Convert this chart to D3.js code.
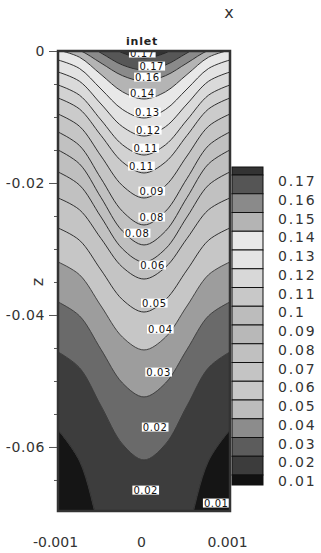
<!DOCTYPE html>
<html>
<head>
<meta charset="utf-8">
<script src="https://cdn.jsdelivr.net/npm/d3@7"></script>
<style>
  html, body { margin: 0; padding: 0; background: #fff; }
  svg { display: block; }
  text { font-family: 'DejaVu Sans', sans-serif; }
</style>
</head>
<body>
<div id="chart"></div>
<script>
// x positions where every isoline is sampled
const contourX = [-0.001, -0.00075, -0.0005, -0.00025, 0, 0.00025, 0.0005, 0.00075, 0.001]

// z of each isoline at contourX, from the inlet down
const contourZ = [
  [0.00424, 0.00347, 0.00159, -0.00029, -0.00106, -0.00029, 0.00159, 0.00347, 0.00424],
  [0.00227, 0.00152, -0.0003, -0.00212, -0.00288, -0.00212, -0.0003, 0.00152, 0.00227],
  [0.00091, 0.00011, -0.00182, -0.00374, -0.00455, -0.00374, -0.00182, 0.00011, 0.00091],
  [0.00015, -0.00094, -0.00356, -0.00618, -0.00727, -0.00618, -0.00356, -0.00094, 0.00015],
  [-0.00136, -0.00265, -0.00576, -0.00886, -0.01015, -0.00886, -0.00576, -0.00265, -0.00136],
  [-0.00318, -0.00459, -0.00803, -0.01147, -0.01288, -0.01147, -0.00803, -0.00459, -0.00318],
  [-0.00515, -0.0067, -0.01045, -0.01421, -0.01576, -0.01421, -0.01045, -0.0067, -0.00515],
  [-0.00712, -0.00879, -0.0128, -0.01682, -0.01848, -0.01682, -0.0128, -0.00879, -0.00712],
  [-0.00955, -0.01141, -0.01591, -0.02041, -0.02227, -0.02041, -0.01591, -0.01141, -0.00955],
  [-0.01227, -0.01433, -0.01932, -0.0243, -0.02636, -0.0243, -0.01932, -0.01433, -0.01227],
  [-0.015, -0.01711, -0.0222, -0.02729, -0.02939, -0.02729, -0.0222, -0.01711, -0.015],
  [-0.01833, -0.02032, -0.02515, -0.02998, -0.03197, -0.02998, -0.02515, -0.02032, -0.01833],
  [-0.02227, -0.02406, -0.02841, -0.03276, -0.03455, -0.03276, -0.02841, -0.02406, -0.02227],
  [-0.02682, -0.02868, -0.03318, -0.03768, -0.03955, -0.03768, -0.03318, -0.02868, -0.02682],
  [-0.03197, -0.03391, -0.03864, -0.04336, -0.0453, -0.04336, -0.03864, -0.03391, -0.03197],
  [-0.03803, -0.04014, -0.04523, -0.05032, -0.05242, -0.05032, -0.04523, -0.04014, -0.03803],
  [-0.04561, -0.048, -0.05379, -0.05958, -0.06197, -0.05958, -0.05379, -0.048, -0.04561],
  [-0.05742, -0.06214, -0.07356, -0.08498, -0.0897, -0.08498, -0.07356, -0.06214, -0.05742]
]

// fill between isolines (one more band than lines)
const bandColors = ['#333333', '#575757', '#8a8a8a', '#b4b4b4', '#e8e8e8', '#e3e3e3', '#dadada',
  '#d2d2d2', '#cbcbcb', '#c5c5c5', '#c1c1c1', '#bfbfbf', '#c1c1c1', '#c4c4c4', '#c6c6c6',
  '#9d9d9d', '#6a6a6a', '#3d3d3d', '#151515']

const labelText = ['0.17', '0.17', '0.16', '0.14', '0.13', '0.12', '0.11', '0.11', '0.09',
  '0.08', '0.08', '0.06', '0.05', '0.04', '0.03', '0.02', '0.02', '0.01']
const labelX = [-0.00002, 0.00009, 0.00004, -0.00002, 0.00004, 0.00005, 0.00002, -0.00003, 0.00009,
  0.00009, -0.00008, 0.0001, 0.00012, 0.00019, 0.00017, 0.00013, 0.00002, 0.00084]
const labelZ = [-0.0003, -0.00227, -0.00394, -0.00636, -0.00924, -0.01197, -0.0147, -0.01742, -0.02121,
  -0.02515, -0.02758, -0.03242, -0.03818, -0.04212, -0.04864, -0.05697, -0.06652, -0.06848]

const legendValues = [0.17, 0.16, 0.15, 0.14, 0.13, 0.12, 0.11, 0.1, 0.09, 0.08, 0.07, 0.06, 0.05, 0.04, 0.03, 0.02, 0.01]
const legendColors = ['#333333', '#555555', '#8a8a8a', '#b4b4b4', '#e8e8e8', '#e4e4e4', '#d8d8d8',
  '#c8c8c8', '#bcbcbc', '#b8b8b8', '#c0c0c0', '#c4c4c4', '#c8c8c8', '#bcbcbc', '#8c8c8c',
  '#5c5c5c', '#3c3c3c', '#111111']

const yTicks = [0, -0.02, -0.04, -0.06]
const yMinorTicks = [-0.005, -0.01, -0.015, -0.025, -0.03, -0.035, -0.045, -0.05, -0.055, -0.065]
const xTicks = [-0.001, 0, 0.001]

const width = 321
const height = 553
const plot = { left: 58, right: 230, top: 51, bottom: 511 }

// plain hyphen for negatives, like the original
const tickText = digits => d => d === 0 ? '0' : d3.format(digits)(d).replace('\u2212', '-')

const svg = d3.select('#chart')
  .append('svg')
  .attr('width', width)
  .attr('height', height)

const x = d3.scaleLinear().domain([-0.001, 0.001]).range([plot.left, plot.right])
const y = d3.scaleLinear().domain([0, -0.0697]).range([plot.top, plot.bottom])

svg.append('clipPath')
  .attr('id', 'plot-clip')
  .append('rect')
  .attr('x', plot.left)
  .attr('y', plot.top)
  .attr('width', plot.right - plot.left)
  .attr('height', plot.bottom - plot.top)

const field = svg.append('g').attr('clip-path', 'url(#plot-clip)')

// bands: band i sits between isoline i-1 and isoline i
const bands = bandColors.map((color, i) => ({
  color,
  upper: i === 0 ? null : contourZ[i - 1],
  lower: i === contourZ.length ? null : contourZ[i]
}))

const band = d3.area()
  .x((d, i) => x(contourX[i]))
  .y0((d, i) => d.upper === null ? y.range()[0] - 5 : y(d.upper[i]))
  .y1((d, i) => d.lower === null ? y.range()[1] + 5 : y(d.lower[i]))
  .curve(d3.curveCatmullRom)

field.selectAll('.band')
  .data(bands)
  .enter()
  .append('path')
  .attr('class', 'band')
  .attr('d', b => band(contourX.map(() => b)))
  .attr('fill', b => b.color)
  .attr('stroke', b => b.color)
  .attr('stroke-width', 0.5)

const isoline = d3.line()
  .x((d, i) => x(contourX[i]))
  .y(d => y(d))
  .curve(d3.curveCatmullRom)

field.selectAll('.iso')
  .data(contourZ)
  .enter()
  .append('path')
  .attr('class', 'iso')
  .attr('d', isoline)
  .attr('fill', 'none')
  .attr('stroke', (d, i) => i >= 14 ? '#3a3a3a' : '#1e1e1e')
  .attr('stroke-width', 0.9)

// contour labels with white boxes
const labels = field.selectAll('.clabel')
  .data(labelText)
  .enter()
  .append('g')
  .attr('class', 'clabel')
  .attr('transform', (d, i) => `translate(${x(labelX[i])},${y(labelZ[i])})`)

labels.append('text')
  .attr('text-anchor', 'middle')
  .attr('dy', '0.36em')
  .attr('font-size', 10)
  .attr('letter-spacing', 0.6)
  .attr('fill', '#111')
  .text(d => d)

labels.each(function () {
  const g = d3.select(this)
  const box = g.select('text').node().getBBox()
  g.insert('rect', 'text')
    .attr('x', box.x - 1)
    .attr('y', box.y + 1)
    .attr('width', box.width + 2)
    .attr('height', box.height - 2)
    .attr('fill', '#fff')
})

// frame
svg.append('rect')
  .attr('x', plot.left)
  .attr('y', plot.top)
  .attr('width', plot.right - plot.left)
  .attr('height', plot.bottom - plot.top)
  .attr('fill', 'none')
  .attr('stroke', '#333')
  .attr('stroke-width', 2.5)

// axes
const yAxis = svg.append('g')
  .attr('transform', `translate(${plot.left - 1},0)`)
  .call(d3.axisLeft(y).tickValues(yTicks).tickSize(8).tickPadding(4).tickFormat(tickText('.2f')))
yAxis.select('.domain').remove()
yAxis.selectAll('line').attr('stroke', '#555')
yAxis.selectAll('text')
  .attr('font-size', 14)
  .attr('font-family', 'DejaVu Sans, sans-serif')
  .attr('letter-spacing', 0.6)
  .attr('fill', '#333')

const yMinor = svg.append('g')
  .attr('transform', `translate(${plot.left - 1},0)`)
  .call(d3.axisLeft(y).tickValues(yMinorTicks).tickSize(3).tickFormat(''))
yMinor.select('.domain').remove()
yMinor.selectAll('line').attr('stroke', '#555')

const xAxis = svg.append('g')
  .attr('transform', `translate(-3,${plot.bottom})`)
  .call(d3.axisBottom(x).tickValues(xTicks).tickSize(0).tickPadding(26).tickFormat(tickText('.3f')))
xAxis.select('.domain').remove()
xAxis.selectAll('text')
  .attr('font-size', 14)
  .attr('font-family', 'DejaVu Sans, sans-serif')
  .attr('fill', '#333')

svg.append('text')
  .attr('x', 229)
  .attr('y', 18)
  .attr('text-anchor', 'middle')
  .attr('font-size', 16)
  .attr('fill', '#333')
  .text('x')

svg.append('text')
  .attr('transform', 'translate(43,282) rotate(-90)')
  .attr('text-anchor', 'middle')
  .attr('font-size', 16)
  .attr('fill', '#333')
  .text('z')

svg.append('text')
  .attr('x', x(0) - 2)
  .attr('y', 45)
  .attr('text-anchor', 'middle')
  .attr('font-size', 11)
  .attr('font-weight', 'bold')
  .attr('letter-spacing', 0.8)
  .attr('fill', '#222')
  .text('inlet')

// legend
const legend = { left: 232, right: 263, top: 167, bottom: 485 }
const yLeg = d3.scaleLinear().domain([0.17, 0.01]).range([175, 475])

const legendBoxes = legendColors.map((color, i) => ({
  color,
  y0: i === 0 ? legend.top : yLeg(legendValues[i - 1]),
  y1: i === legendValues.length ? legend.bottom : yLeg(legendValues[i])
}))

svg.selectAll('.leg')
  .data(legendBoxes)
  .enter()
  .append('rect')
  .attr('class', 'leg')
  .attr('x', legend.left)
  .attr('y', d => d.y0)
  .attr('width', legend.right - legend.left)
  .attr('height', d => d.y1 - d.y0)
  .attr('fill', d => d.color)
  .attr('stroke', '#111')
  .attr('stroke-width', 1)

svg.selectAll('.leg-label')
  .data(legendValues)
  .enter()
  .append('text')
  .attr('class', 'leg-label')
  .attr('x', 278)
  .attr('y', d => yLeg(d) + 11)
  .attr('font-size', 14)
  .attr('letter-spacing', 1.8)
  .attr('fill', '#333')
  .text(d => d3.format('.2~f')(d))
</script>
</body>
</html>
